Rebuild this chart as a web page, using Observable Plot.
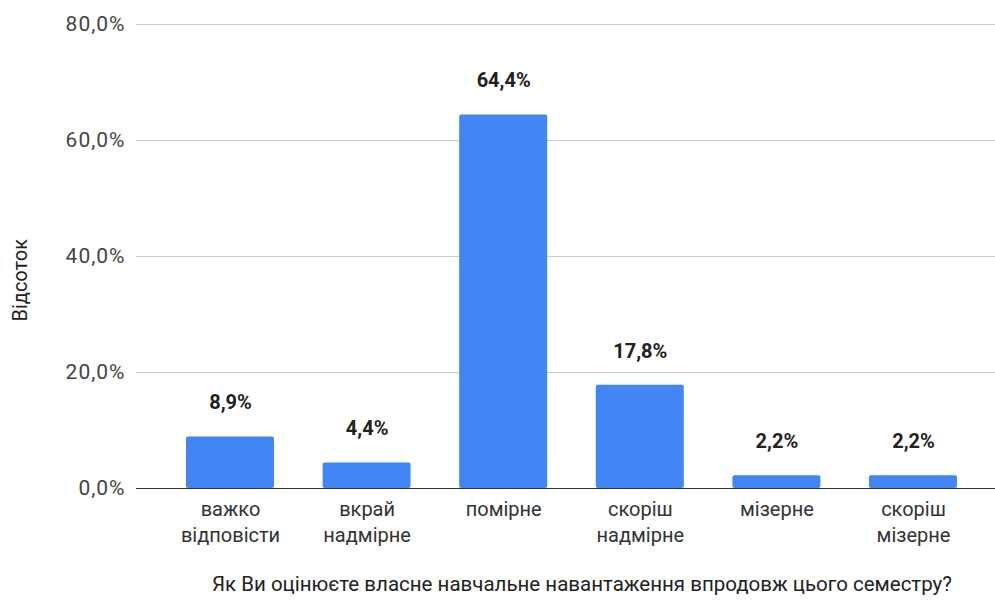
<!DOCTYPE html>
<html>
<head>
<meta charset="utf-8">
<script src="https://cdn.jsdelivr.net/npm/d3@7"></script>
<script src="https://cdn.jsdelivr.net/npm/@observablehq/plot@0.6"></script>
<style>
  body { margin: 0; background: #fff; }
  svg { font-family: Roboto, Arial, sans-serif; }
  .ytick text { letter-spacing: 1px; }
</style>
</head>
<body>
<div id="chart"></div>
<script>
const categories = ["важко відповісти", "вкрай надмірне", "помірне", "скоріш надмірне", "мізерне", "скоріш мізерне"];
const categoryLabels = ["важко\nвідповісти", "вкрай\nнадмірне", "помірне", "скоріш\nнадмірне", "мізерне", "скоріш\nмізерне"];
const values = [8.9, 4.4, 64.4, 17.8, 2.2, 2.2];
const yTicks = [0, 20, 40, 60, 80];
const yTitle = "Відсоток";
const xTitle = "Як Ви оцінюєте власне навчальне навантаження впродовж цього семестру?";

const data = categories.map((c, i) => ({category: c, value: values[i]}));
const labelOf = new Map(categories.map((c, i) => [c, categoryLabels[i]]));
const fmt = v => v.toFixed(1).replace(".", ",") + "%";

const chart = Plot.plot({
  width: 995,
  height: 601,
  marginLeft: 136,
  marginRight: 0,
  marginTop: 24,
  marginBottom: 113,
  style: {fontFamily: "Roboto, Arial, sans-serif", background: "#fff"},
  x: {domain: categories, range: [161.7, 981.3], paddingInner: 0.356, paddingOuter: 0.178, round: false, label: null},
  y: {domain: [0, 80], ticks: yTicks, label: null},
  marks: [
    Plot.gridY(yTicks, {stroke: "#cccccc", strokeOpacity: 1, strokeWidth: 1}),
    Plot.axisY(yTicks, {tickSize: 0, tickPadding: 11, tickFormat: d => d.toFixed(1).replace(".", ",") + "%", fontSize: 21, fill: "#444", label: null, className: "ytick"}),
    Plot.axisX({tickSize: 0, tickPadding: 9, tickFormat: d => labelOf.get(d), fontSize: 20, lineHeight: 1.3, fill: "#333", label: null}),
    Plot.barY(data, {x: "category", y: "value", fill: "#4285f4", rx: 2}),
    Plot.ruleY([0], {stroke: "#333", strokeWidth: 1}),
    Plot.text(data, {x: "category", y: "value", text: d => fmt(d.value), dy: -34, fontSize: 20, fontWeight: "bold", fill: "#222"}),
    Plot.text([yTitle], {text: d => d, frameAnchor: "left", rotate: -90, dx: -116, dy: 65, fontSize: 20, fill: "#222"}),
    Plot.text([xTitle], {text: d => d, frameAnchor: "bottom", dx: 16, dy: 102, fontSize: 20.5, fill: "#222"})
  ]
});
document.getElementById("chart").appendChild(chart);
</script>
</body>
</html>
